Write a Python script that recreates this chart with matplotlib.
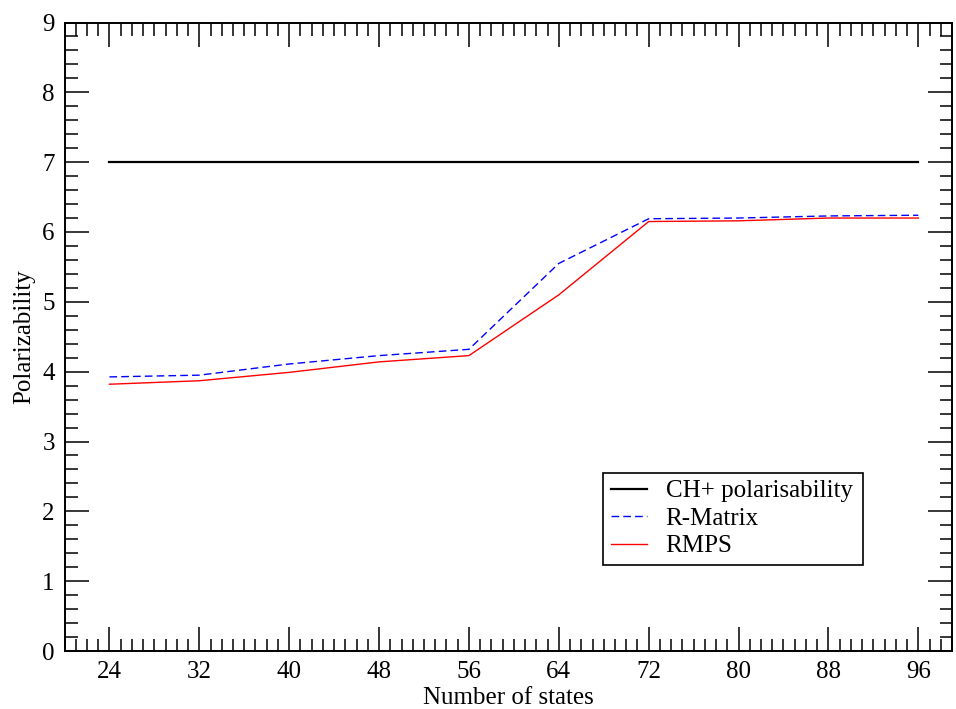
import matplotlib
matplotlib.use("Agg")
import matplotlib.pyplot as plt
from matplotlib.ticker import MultipleLocator

plt.rcParams['font.family'] = ['Liberation Serif', 'DejaVu Serif']

states = [24, 32, 40, 48, 56, 64, 72, 80, 88, 96]
ch_pol = [7.0] * len(states)
r_matrix = [3.925, 3.95, 4.11, 4.23, 4.32, 5.55, 6.19, 6.20, 6.23, 6.24]
rmps = [3.82, 3.87, 3.99, 4.14, 4.23, 5.10, 6.15, 6.16, 6.20, 6.20]

fig = plt.figure(figsize=(9.56, 7.09), dpi=100)
ax = fig.add_axes([64.5/956, 1 - 651/709, (952-64.5)/956, (651-22.5)/709])

ax.plot(states, ch_pol, color='black', lw=1.6, label='CH+ polarisability')
ax.plot(states, r_matrix, color='blue', lw=1.0, ls=(0, (5.5, 3)), label='R-Matrix')
ax.plot(states, rmps, color='red', lw=1.0, label='RMPS')

ax.set_xlim(20, 99)
ax.set_ylim(0, 9)
ax.xaxis.set_minor_locator(MultipleLocator(1))
ax.yaxis.set_major_locator(MultipleLocator(1))
ax.yaxis.set_minor_locator(MultipleLocator(0.2))
ax.set_xticks(states)
ax.tick_params(which='both', direction='in', top=True, right=True, width=1.1)
ax.tick_params(which='major', length=17, labelsize=18, pad=7)
ax.tick_params(which='minor', length=9)
for s in ax.spines.values():
    s.set_linewidth(1.4)

ax.set_xlabel('Number of states', fontsize=18, labelpad=3)
ax.set_ylabel('Polarizability', fontsize=18, labelpad=5)

leg = ax.legend(loc='lower left', bbox_to_anchor=((603-64.5)/(952-64.5), (651-565)/(651-22.5),
                                                    (863-603)/(952-64.5), (565-472)/(651-22.5)),
                mode='expand', fontsize=18, frameon=True, fancybox=False, edgecolor='black',
                framealpha=1, handlelength=1.45, handletextpad=0.75, borderaxespad=0,
                labelspacing=0.2, borderpad=0.3)
leg.get_frame().set_linewidth(1.2)

fig.savefig('out.png', dpi=100)
